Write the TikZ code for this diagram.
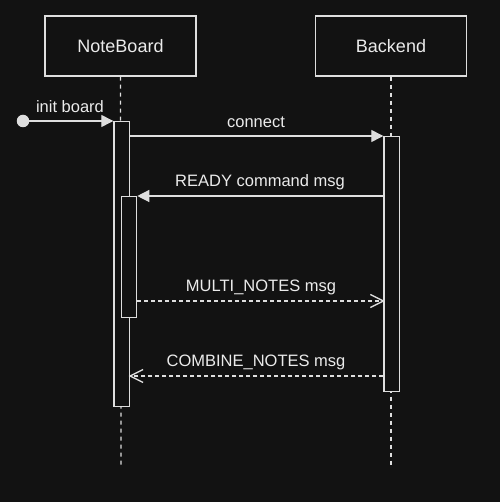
\documentclass[tikz,border=0pt]{standalone}
\usepackage{fontspec}
\setmainfont{Liberation Sans}
\usetikzlibrary{arrows.meta,calc}
\definecolor{bg}{RGB}{18,18,18}
\definecolor{ln}{RGB}{222,222,222}
\definecolor{tx}{RGB}{235,235,235}
\tikzset{
  header/.style={draw=ln, line width=1.3pt, fill=bg, minimum width=151pt, minimum height=60pt, inner sep=0pt, text=tx, font=\fontsize{18}{21}\selectfont},
  lifeline/.style={draw=ln, line width=1.3pt, dash pattern=on 4pt off 4pt},
  activ/.style={draw=ln, line width=1.3pt, fill=bg, inner sep=0pt, anchor=north west},
  msg/.style={draw=ln, line width=1.3pt, -{Triangle[length=12pt,width=12pt,fill=ln]}},
  reply/.style={draw=ln, line width=1.3pt, dash pattern=on 4pt off 3pt},
  barb/.style={draw=ln, line width=1.3pt, solid, line join=miter},
  lbl/.style={text=tx, font=\fontsize{16.5}{19}\selectfont, inner sep=0pt}
}
\begin{document}
\begin{tikzpicture}[x=1pt,y=-1pt]
\fill[bg] (0,0) rectangle (500,502);
\useasboundingbox (0,0) rectangle (500,502);
% headers
\node[header] (nb) at (120.5,46) {NoteBoard};
\node[header] (be) at (391,46) {Backend};
% lifelines
\coordinate (nbend) at (121,465);
\coordinate (beend) at (391,465);
\draw[lifeline] (nb.south) -- (nbend);
\draw[lifeline] (be.south) -- (beend);
% activations
\node[activ, minimum width=15.5pt, minimum height=285pt] (a1) at (113.3,121) {};
\node[activ, minimum width=15.5pt, minimum height=255pt] (b1) at (383.3,136) {};
\node[activ, minimum width=15.3pt, minimum height=121pt] (a2) at (120.7,196) {};
% init
\node[circle, fill=ln, minimum size=12.5pt, inner sep=0pt] (start) at (23,121) {};
\draw[msg] (start.center) -- (a1.north west);
\node[lbl] (linit) at (70,107) {init board};
% connect
\coordinate (c1) at (a1.east |- 0,136);
\draw[msg] (c1) -- (b1.north west);
\node[lbl] (lconn) at (256,122) {connect};
% READY
\coordinate (r1) at (b1.west |- 0,196);
\draw[msg] (r1) -- (a2.north east);
\node[lbl] (lready) at (260,182) {READY command msg};
% MULTI_NOTES
\coordinate (m1) at (a2.east |- 0,301);
\coordinate (m2) at (b1.west |- 0,301);
\draw[reply] (m1) -- (m2);
\draw[barb] ($(m2)+(-13,-6.5)$) -- (m2) -- ($(m2)+(-13,6.5)$);
\node[lbl] (lmulti) at (261,287) {MULTI\_NOTES msg};
% COMBINE_NOTES
\coordinate (k1) at (b1.west |- 0,376);
\coordinate (k2) at (a1.east |- 0,376);
\draw[reply] (k1) -- (k2);
\draw[barb] ($(k2)+(13,-6.5)$) -- (k2) -- ($(k2)+(13,6.5)$);
\node[lbl] (lcomb) at (256,362) {COMBINE\_NOTES msg};
\end{tikzpicture}
\end{document}
